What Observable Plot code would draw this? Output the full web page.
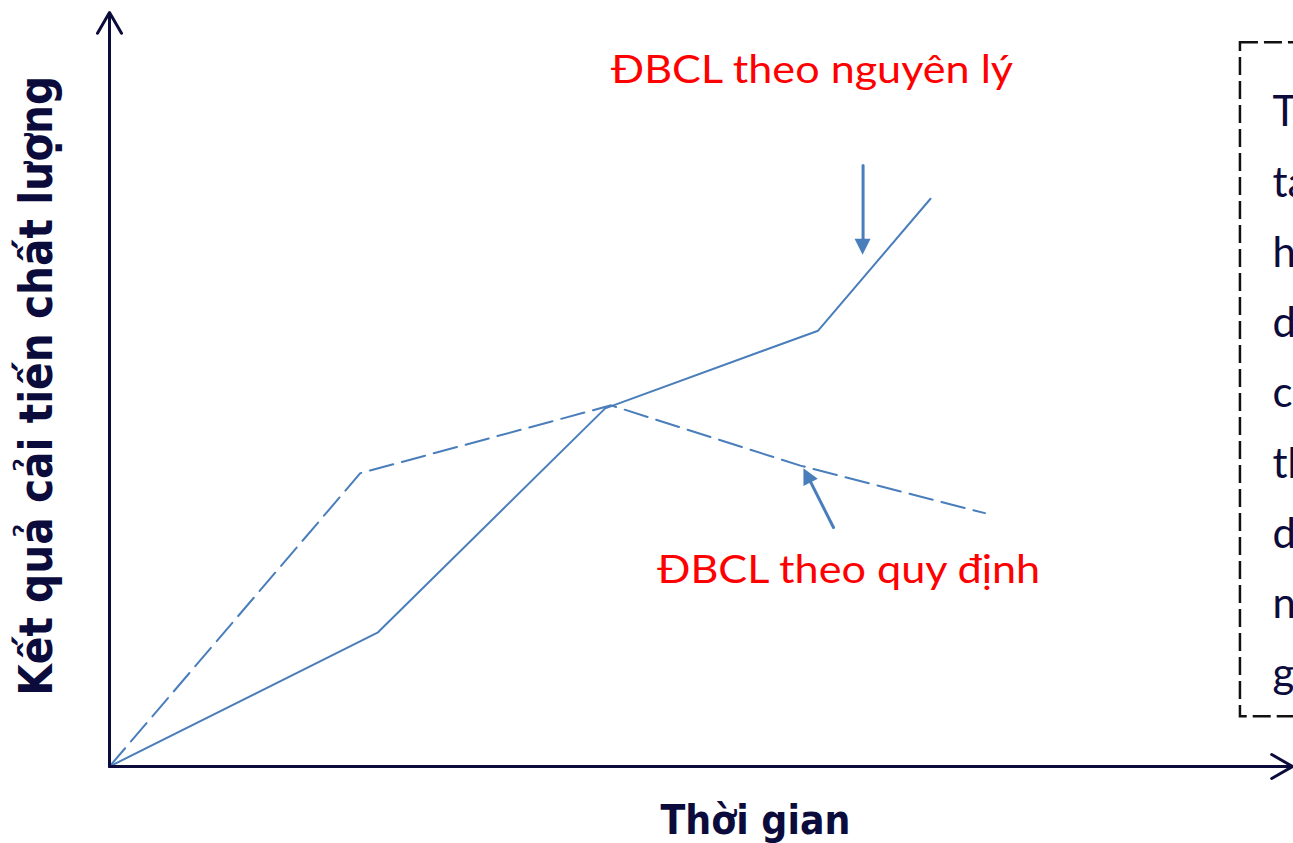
<!DOCTYPE html>
<html><head><meta charset="utf-8">
<script src="https://cdn.jsdelivr.net/npm/d3@7"></script>
<script src="https://cdn.jsdelivr.net/npm/@observablehq/plot@0.6"></script>
<style>html,body{margin:0;padding:0;background:#fff;overflow:hidden}</style>
</head><body><div id="chart"></div>
<script>
// Series: "ĐBCL theo nguyên lý" (solid) and "ĐBCL theo quy định" (dashed)
const timeNguyenLy  = [0, 2.27, 4.19, 5.99, 6.94];
const valueNguyenLy = [0, 1.78, 4.75, 5.78, 7.53];
const timeQuyDinh   = [0, 2.12, 4.24, 5.84, 7.40];
const valueQuyDinh  = [0, 3.89, 4.79, 3.99, 3.36];

// Annotation texts
const labelNames = ["ĐBCL theo nguyên lý", "ĐBCL theo quy định"];
const labelTimes = [4.24, 4.63];
const labelValues = [9.06, 2.43];
const xTitle = "Thời gian";
const yTitle = "Kết quả cải tiến chất lượng";
const boxLines = ["T", "ta", "h", "d", "c", "th", "d", "n", "g"];

// Pointer arrows (tail -> tip)
const pointerX1 = [6.37, 6.12];
const pointerY1 = [7.97, 3.17];
const pointerX2 = [6.37, 5.87];
const pointerY2 = [6.78, 3.95];

// Axes extents and side box
const axisMax = 10;
const boxX = [9.56, 11];
const boxY = [0.66, 9.60];

const axisColor = "#0b0c3c";
const lineColor = "#4a7ebb";

const solid = timeNguyenLy.map((t, i) => ({t, v: valueNguyenLy[i]}));
const dashed = timeQuyDinh.map((t, i) => ({t, v: valueQuyDinh[i]}));
const labels = labelNames.map((s, i) => ({s, t: labelTimes[i], v: labelValues[i]}));
const pointers = pointerX1.map((x, i) => ({x1: x, y1: pointerY1[i], x2: pointerX2[i], y2: pointerY2[i]}));
const axes = [{x1: 0, y1: 0, x2: axisMax, y2: 0}, {x1: 0, y1: 0, x2: 0, y2: axisMax}];

function arrowHeads(index, scales) {
  const g = d3.create("svg:g");
  for (const a of pointers) {
    const x1 = scales.x(a.x1), y1 = scales.y(a.y1), x2 = scales.x(a.x2), y2 = scales.y(a.y2);
    const ang = Math.atan2(y2 - y1, x2 - x1);
    const L = 16, W = 8;
    const bx = x2 - L * Math.cos(ang), by = y2 - L * Math.sin(ang);
    const px = -Math.sin(ang) * W, py = Math.cos(ang) * W;
    g.append("path")
      .attr("d", `M${x2},${y2}L${bx + px},${by + py}L${bx - px},${by - py}Z`)
      .attr("fill", lineColor);
  }
  return g.node();
}

const chart = Plot.plot({
  width: 1293,
  height: 843,
  marginLeft: 109,
  marginRight: 1,
  marginTop: 12,
  marginBottom: 77,
  x: {domain: [0, axisMax], axis: null},
  y: {domain: [0, axisMax], axis: null},
  style: {background: "#fff", overflow: "hidden"},
  marks: [
    Plot.rect([{}], {x1: boxX[0], x2: boxX[1], y1: boxY[0], y2: boxY[1], fill: "none", stroke: "#111", strokeWidth: 2.5, strokeDasharray: "18,6"}),
    Plot.line(solid, {x: "t", y: "v", stroke: lineColor, strokeWidth: 2}),
    Plot.line(dashed, {x: "t", y: "v", stroke: lineColor, strokeWidth: 2, strokeDasharray: "24,9"}),
    Plot.arrow(pointers, {x1: "x1", y1: "y1", x2: "x2", y2: "y2", stroke: lineColor, strokeWidth: 3, headLength: 0, insetEnd: 12}),
    arrowHeads,
    Plot.arrow(axes, {x1: "x1", y1: "y1", x2: "x2", y2: "y2", stroke: axisColor, strokeWidth: 3, headLength: 12, headAngle: 60}),
    Plot.text(labels, {x: "t", y: "v", text: "s", textAnchor: "start", lineAnchor: "bottom", fill: "#ff0000", fontSize: 39, fontFamily: "Lato"}),
    Plot.text([xTitle], {x: 5.46, y: -0.90, text: d => d, textAnchor: "middle", lineAnchor: "bottom", fill: axisColor, fontSize: 41, fontWeight: "bold", fontFamily: "DejaVu Sans"}),
    Plot.text([yTitle], {x: -0.49, y: 5.05, text: d => d, rotate: -90, textAnchor: "middle", lineAnchor: "bottom", fill: axisColor, fontSize: 46, fontWeight: "bold", fontFamily: "DejaVu Sans"}),
    Plot.text([boxLines.join("\n")], {x: 9.83, y: 9.15, text: d => d, textAnchor: "start", lineAnchor: "top", lineHeight: 1.6726, fill: axisColor, fontSize: 42, fontFamily: "Lato"})
  ]
});

document.getElementById("chart").appendChild(chart);

// Fit title / annotation lengths to the reference
const groups = chart.querySelectorAll('g[aria-label="text"]');
const fit = (g, lens) => {
  if (!g) return;
  g.querySelectorAll("text").forEach((t, i) => {
    if (lens[i]) { t.setAttribute("textLength", lens[i]); t.setAttribute("lengthAdjust", "spacingAndGlyphs"); }
  });
};
fit(groups[0], [402, 383]);
fit(groups[1], [190]);
fit(groups[2], [620]);
</script>
</body></html>
